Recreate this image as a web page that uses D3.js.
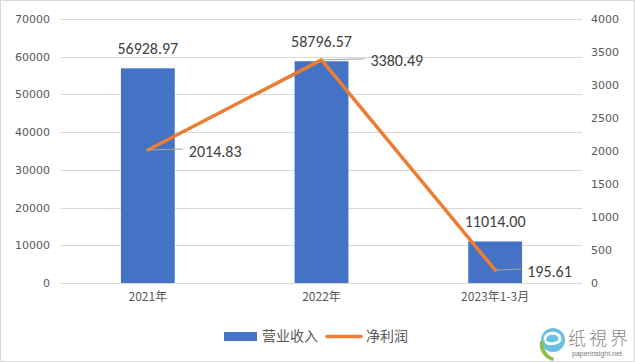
<!DOCTYPE html>
<html>
<head>
<meta charset="utf-8">
<script src="https://cdn.jsdelivr.net/npm/d3@7"></script>
<style>
  html, body { margin: 0; padding: 0; background: #fff; }
  svg { display: block; }
</style>
</head>
<body>
<svg id="chart" width="635" height="362"></svg>
<script>
// Revenue (bars, left axis) and net profit (line, right axis)
const periods = ["2021年", "2022年", "2023年1-3月"];
const revenue = [56928.97, 58796.57, 11014.00];
const netProfit = [2014.83, 3380.49, 195.61];
const leftTicks = [0, 10000, 20000, 30000, 40000, 50000, 60000, 70000];
const rightTicks = [0, 500, 1000, 1500, 2000, 2500, 3000, 3500, 4000];
const seriesNames = ["营业收入", "净利润"];

const W = 635, H = 362;
const margin = { left: 61, right: 53, top: 19, bottom: 79 };
const plotR = W - margin.right, plotB = H - margin.bottom;

const svg = d3.select("#chart");
const numFont = "Calibri, Carlito, 'Liberation Sans', 'DejaVu Sans', sans-serif";
const tickFont = "'DejaVu Sans', Tahoma, sans-serif";
const cjkFont = "'Noto Sans CJK SC', 'Microsoft YaHei', sans-serif";

svg.append("rect").attr("x", 0.5).attr("y", 0.5).attr("width", W - 1).attr("height", H - 1)
  .attr("fill", "#fff").attr("stroke", "#d9d9d9");

const x = d3.scaleBand().domain(periods).range([margin.left, plotR]).padding(0);
const yL = d3.scaleLinear().domain([0, 70000]).range([plotB, margin.top]);
const yR = d3.scaleLinear().domain([0, 4000]).range([plotB, margin.top]);
const barW = x.bandwidth() * 0.31;
const cx = d => x(d) + x.bandwidth() / 2;

// gridlines
svg.append("g").selectAll("line").data(leftTicks).join("line")
  .attr("x1", margin.left).attr("x2", plotR)
  .attr("y1", d => Math.round(yL(d)) + 0.5).attr("y2", d => Math.round(yL(d)) + 0.5)
  .attr("stroke", "#d9d9d9").attr("stroke-width", 1);

// left axis
const axL = svg.append("g").attr("transform", `translate(${margin.left - 11},0)`)
  .call(d3.axisLeft(yL).tickValues(leftTicks).tickSize(0).tickPadding(0).tickFormat(d3.format("d")));
axL.select(".domain").remove();
axL.selectAll("text").attr("font-family", tickFont).attr("font-size", 11).attr("fill", "#595959");

// right axis
const axR = svg.append("g").attr("transform", `translate(${plotR + 9},0)`)
  .call(d3.axisRight(yR).tickValues(rightTicks).tickSize(0).tickPadding(0).tickFormat(d3.format("d")));
axR.select(".domain").remove();
axR.selectAll("text").attr("font-family", tickFont).attr("font-size", 11).attr("fill", "#595959");

// bottom axis labels
const axB = svg.append("g").attr("transform", `translate(0,${plotB + 9})`)
  .call(d3.axisBottom(x).tickSize(0).tickPadding(0));
axB.select(".domain").remove();
axB.selectAll("text").attr("font-family", cjkFont).attr("font-size", 12).attr("fill", "#595959");

// bars
svg.append("g").selectAll("rect").data(periods).join("rect")
  .attr("x", d => cx(d) - barW / 2).attr("width", barW)
  .attr("y", (d, i) => yL(revenue[i])).attr("height", (d, i) => plotB - yL(revenue[i]))
  .attr("fill", "#4472C4");

// bar value labels
svg.append("g").selectAll("text").data(periods).join("text")
  .attr("x", d => cx(d)).attr("y", (d, i) => yL(revenue[i]) - 14)
  .attr("text-anchor", "middle").attr("font-family", numFont).attr("font-size", 16)
  .attr("fill", "#404040").text((d, i) => revenue[i].toFixed(2));

// profit line
const pts = periods.map((d, i) => [cx(d), yR(netProfit[i])]);
svg.append("path").attr("d", d3.line()(pts))
  .attr("fill", "none").attr("stroke", "#ED7D31").attr("stroke-width", 3.5)
  .attr("stroke-linejoin", "round").attr("stroke-linecap", "round");

// profit labels with leader lines
const leaderEnd = [35, 43, 26];
const lbl = svg.append("g");
pts.forEach((p, i) => {
  lbl.append("line").attr("x1", p[0]).attr("y1", p[1]).attr("x2", p[0] + leaderEnd[i]).attr("y2", p[1] - 1)
    .attr("stroke", "#a6a6a6").attr("stroke-width", 1);
  lbl.append("text").attr("x", p[0] + leaderEnd[i] + 6).attr("y", p[1] + 1).attr("dy", "0.35em")
    .attr("font-family", numFont).attr("font-size", 16).attr("fill", "#404040")
    .text(netProfit[i].toFixed(2));
});

// legend
const lg = svg.append("g").attr("transform", "translate(0,336)");
lg.append("rect").attr("x", 224).attr("y", -4).attr("width", 33).attr("height", 9).attr("fill", "#4472C4");
lg.append("text").attr("x", 262).attr("y", 0).attr("dy", "0.36em").attr("font-family", cjkFont)
  .attr("font-size", 14).attr("fill", "#595959").text(seriesNames[0]);
lg.append("line").attr("x1", 327).attr("x2", 361).attr("y1", 0.5).attr("y2", 0.5)
  .attr("stroke", "#ED7D31").attr("stroke-width", 3.5).attr("stroke-linecap", "round");
lg.append("text").attr("x", 366).attr("y", 0).attr("dy", "0.36em").attr("font-family", cjkFont)
  .attr("font-size", 14).attr("fill", "#595959").text(seriesNames[1]);

// site mark: round badge with swirl, then the name
const mk = svg.append("g").attr("transform", "translate(537,327)");
mk.append("circle").attr("cx", 16).attr("cy", 13).attr("r", 12).attr("fill", "#6bbfe0");
mk.append("path").attr("d", "M8,12 C8,5 22,4 23,11 C24,17 12,18 9,15")
  .attr("fill", "none").attr("stroke", "#fff").attr("stroke-width", 3).attr("stroke-linecap", "round");
mk.append("path").attr("d", "M3,14 C1,24 8,32 16,34 L17,31 C10,28 6,22 7,15 Z").attr("fill", "#8dbf4f");
mk.append("text").attr("x", 31).attr("y", 18).attr("font-family", cjkFont).attr("font-size", 18)
  .attr("font-weight", 300).attr("fill", "#8a8a8a").attr("letter-spacing", 3).text("纸視界");
mk.append("text").attr("x", 35).attr("y", 29).attr("font-family", "'Liberation Sans', sans-serif")
  .attr("font-size", 7).attr("fill", "#7a7a7a").text("paperinsight.net");
</script>
</body>
</html>
